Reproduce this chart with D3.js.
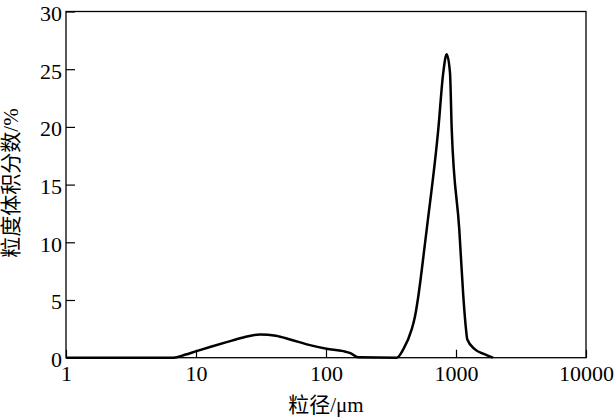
<!DOCTYPE html>
<html>
<head>
<meta charset="utf-8">
<script src="https://cdn.jsdelivr.net/npm/d3@7"></script>
<style>
  body { margin: 0; background: #fff; }
  svg text { font-family: "Liberation Serif", "Noto Sans CJK SC", serif; fill: #000; }
</style>
</head>
<body>
<div class="chart"></div>
<script>
// particle size (um) and volume fraction (%)
var sizes = [1, 6.7, 8.2, 10.1, 13, 17.2, 23.1, 31.1, 41.2, 52.9, 75.3, 101, 136, 154, 177,
             350, 393, 456, 484, 513, 570, 595, 731, 798, 848, 899, 927, 1060, 1138, 1194, 1222, 1400, 1671, 1927];
var volume = [0, 0, 0.25, 0.57, 0.95, 1.35, 1.75, 2.02, 1.9, 1.58, 1.09, 0.78, 0.57, 0.4, 0.03,
              0, 0.72, 2.45, 3.6, 5.33, 9.38, 11.1, 19.8, 24.7, 26.3, 24.7, 19.8, 11.1, 5.33, 2.45, 1.58, 0.72, 0.29, 0];
var xTicks = [1, 10, 100, 1000, 10000];
var yTicks = [0, 5, 10, 15, 20, 25, 30];
var labelX = "粒径/μm";
var labelY = "粒度体积分数/%";

var width = 616, height = 418;
var margin = {left: 66, right: 30, top: 11.5, bottom: 60.3};
var w = width - margin.left - margin.right;
var h = height - margin.top - margin.bottom;

var data = sizes.map(function (d, i) { return {x: d, y: volume[i]}; });

var svg = d3.select(".chart").append("svg")
    .attr("width", width)
    .attr("height", height)
  .append("g")
    .attr("transform", "translate(" + margin.left + "," + margin.top + ")");

var x = d3.scaleLog().domain([1, 10000]).range([0, w]);
var y = d3.scaleLinear().domain([0, 30]).range([h, 0]);

var xAxis = d3.axisBottom(x)
    .tickValues(xTicks)
    .tickFormat(d3.format("d"))
    .tickSizeInner(-8)
    .tickSizeOuter(0)
    .tickPadding(8);

var yAxis = d3.axisLeft(y)
    .tickValues(yTicks)
    .tickSizeInner(-9)
    .tickSizeOuter(0)
    .tickPadding(4);

var gx = svg.append("g")
    .attr("transform", "translate(0," + h + ")")
    .call(xAxis);
var gy = svg.append("g").call(yAxis);

[gx, gy].forEach(function (g) {
  g.select(".domain").remove();
  g.selectAll("line").attr("stroke", "#000").attr("stroke-width", 1.2);
  g.selectAll("text").style("font-size", "22px");
});
gy.selectAll("text").attr("dy", "0.4em");

// frame
svg.append("rect")
    .attr("width", w)
    .attr("height", h)
    .attr("fill", "none")
    .attr("stroke", "#000")
    .attr("stroke-width", 1.3);

var line = d3.line()
    .x(function (d) { return x(d.x); })
    .y(function (d) { return y(d.y); })
    .curve(d3.curveMonotoneX);

svg.append("path")
    .datum(data)
    .attr("d", line)
    .attr("fill", "none")
    .attr("stroke", "#000")
    .attr("stroke-width", 2.5)
    .attr("stroke-linejoin", "round");

svg.append("text")
    .attr("x", w / 2)
    .attr("y", h + 54)
    .style("text-anchor", "middle")
    .style("font-size", "21px")
    .text(labelX);

svg.append("text")
    .attr("transform", "rotate(-90)")
    .attr("x", -(183 - margin.top))
    .attr("y", -margin.left + 18)
    .style("text-anchor", "middle")
    .style("font-size", "21px")
    .text(labelY);
</script>
</body>
</html>
